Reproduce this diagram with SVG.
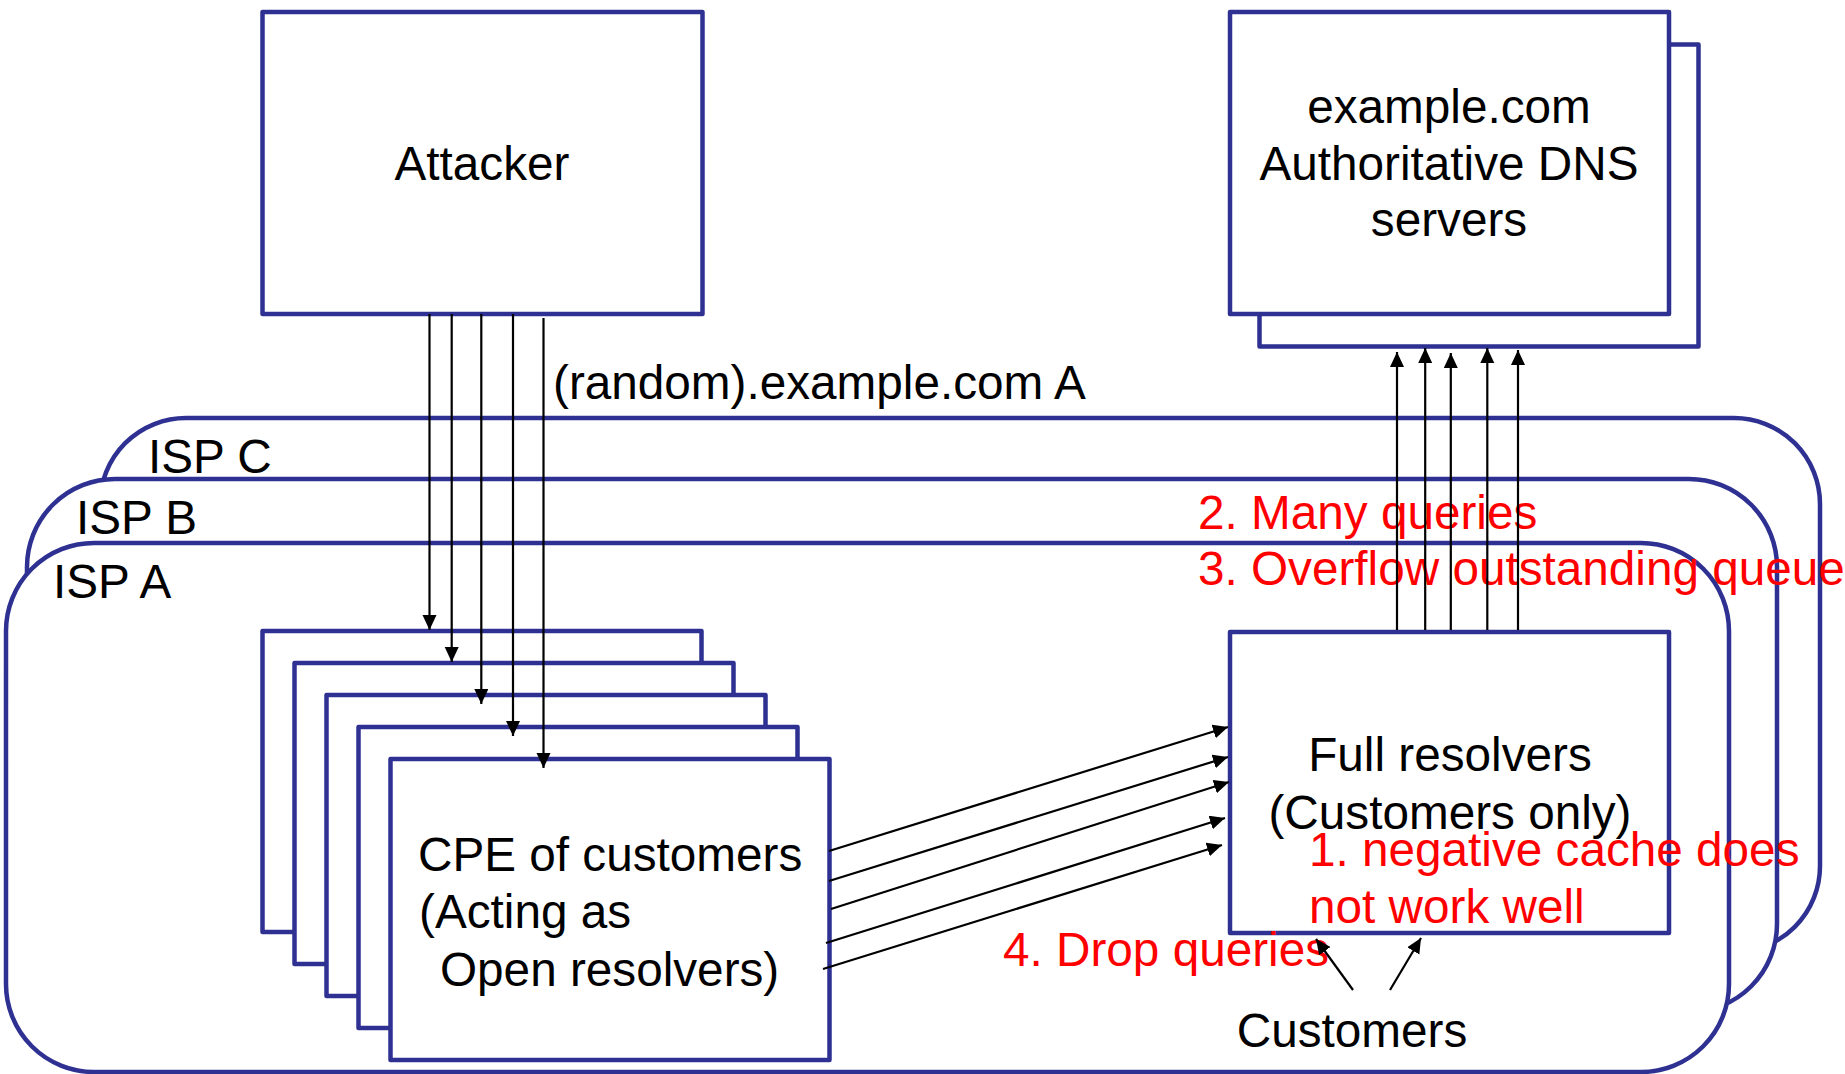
<svg xmlns="http://www.w3.org/2000/svg" width="1845" height="1074" viewBox="0 0 1845 1074">
<style>
.isp{fill:#ffffff;stroke:#2E3192;stroke-width:4.5}
.box{fill:#ffffff;stroke:#2E3192;stroke-width:4.5;stroke-linejoin:round}
.t{font-family:"Liberation Sans",Arial,sans-serif;font-size:47.7px;fill:#000000}
.r{font-family:"Liberation Sans",Arial,sans-serif;font-size:47.7px;fill:#FF0000}
.c{text-anchor:middle}
.ln{stroke:#000000;stroke-width:2.2;fill:none;marker-end:url(#ah)}
</style>
<defs>
<marker id="ah" markerUnits="userSpaceOnUse" markerWidth="16" markerHeight="15" refX="15" refY="7" orient="auto">
<path d="M0,0 L15,7 L0,14 z" fill="#000000"/>
</marker>
</defs>
<rect width="1845" height="1074" fill="#ffffff"/>
<g id="isp-c"><rect class="isp" x="100" y="418" width="1720" height="534" rx="86" ry="86"/><text class="t" x="148" y="473">ISP C</text></g>
<g id="isp-b"><rect class="isp" x="27" y="479" width="1750" height="533" rx="88" ry="88"/><text class="t" x="76" y="534">ISP B</text></g>
<g id="isp-a"><rect class="isp" x="6" y="543" width="1723" height="529" rx="88" ry="88"/><text class="t" x="53" y="598">ISP A</text></g>
<g id="attacker"><rect class="box" x="262.5" y="12" width="440" height="302"/><text class="t c" x="482" y="180">Attacker</text></g>
<g id="auth-dns">
<rect class="box" x="1259.5" y="44.5" width="439" height="302"/>
<rect class="box" x="1230" y="12" width="439" height="302"/>
<text class="t c" x="1449" y="123">example.com</text>
<text class="t c" x="1449" y="180">Authoritative DNS</text>
<text class="t c" x="1449" y="236">servers</text>
</g>
<g id="cpe">
<rect class="box" x="262.5" y="631" width="439" height="301"/>
<rect class="box" x="294.5" y="663" width="439" height="301"/>
<rect class="box" x="326.5" y="695" width="439" height="301"/>
<rect class="box" x="358.5" y="727" width="439" height="301"/>
<rect class="box" x="390.5" y="759" width="439" height="301"/>
<text class="t" x="418" y="871">CPE of customers</text>
<text class="t" x="419" y="928">(Acting as</text>
<text class="t" x="440" y="986">Open resolvers)</text>
</g>
<g id="full-resolvers">
<rect class="box" x="1230" y="632" width="439" height="301"/>
<text class="t c" x="1450" y="771">Full resolvers</text>
<text class="t c" x="1450" y="829">(Customers only)</text>
</g>
<g id="customers"><text class="t c" x="1352" y="1047">Customers</text></g>
<g id="labels">
<text class="t" x="553" y="399">(random).example.com A</text>
<text class="r" x="1198" y="529">2. Many queries</text>
<text class="r" x="1198" y="585">3. Overflow outstanding queue</text>
<text class="r" x="1309" y="866">1. negative cache does</text>
<text class="r" x="1309" y="923">not work well</text>
<text class="r" x="1003" y="966">4. Drop queries</text>
</g>
<g id="connectors">
<line class="ln" x1="429.5" y1="314" x2="429.5" y2="630"/>
<line class="ln" x1="451.7" y1="314" x2="451.7" y2="662"/>
<line class="ln" x1="481.3" y1="314" x2="481.3" y2="704"/>
<line class="ln" x1="513" y1="314" x2="513" y2="736"/>
<line class="ln" x1="543.5" y1="318" x2="543.5" y2="768"/>
<line class="ln" x1="829" y1="851" x2="1228" y2="727"/>
<line class="ln" x1="829" y1="881" x2="1228" y2="757"/>
<line class="ln" x1="831" y1="909" x2="1229" y2="782"/>
<line class="ln" x1="826" y1="943" x2="1225" y2="818"/>
<line class="ln" x1="823" y1="969" x2="1222" y2="845"/>
<line class="ln" x1="1397" y1="630" x2="1397" y2="352"/>
<line class="ln" x1="1425.2" y1="630" x2="1425.2" y2="348"/>
<line class="ln" x1="1450.8" y1="630" x2="1450.8" y2="353"/>
<line class="ln" x1="1487.3" y1="630" x2="1487.3" y2="348"/>
<line class="ln" x1="1518" y1="630" x2="1518" y2="350"/>
<line class="ln" x1="1353" y1="990" x2="1316" y2="939"/>
<line class="ln" x1="1390" y1="990" x2="1421" y2="938"/>
</g>
</svg>
